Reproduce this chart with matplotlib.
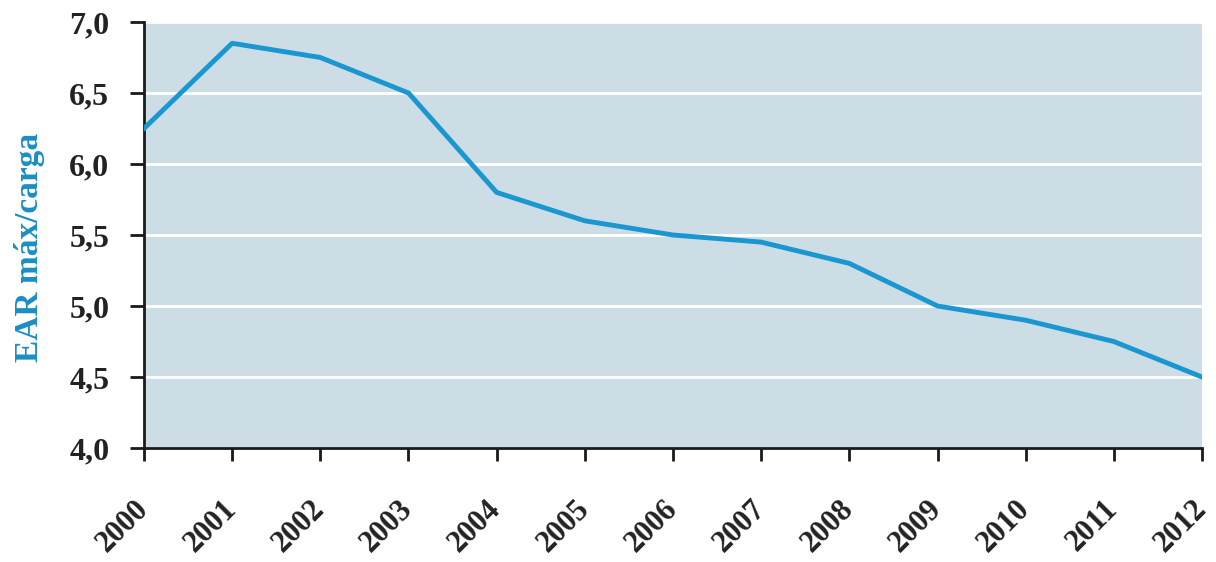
import matplotlib.pyplot as plt

# EAR max per load, yearly values
years = [2000, 2001, 2002, 2003, 2004, 2005, 2006, 2007, 2008, 2009, 2010, 2011, 2012]
ear = [6.25, 6.85, 6.75, 6.50, 5.80, 5.60, 5.50, 5.45, 5.30, 5.00, 4.90, 4.75, 4.50]
y_ticks = [4.0, 4.5, 5.0, 5.5, 6.0, 6.5, 7.0]
y_tick_labels = ['4,0', '4,5', '5,0', '5,5', '6,0', '6,5', '7,0']

plt.rcParams['font.family'] = ['Liberation Serif', 'DejaVu Serif']

fig = plt.figure(figsize=(12.16, 5.62), dpi=100)
ax = fig.add_axes([0.1184, 0.2028, 0.8701, 0.7581])
ax.set_facecolor('#cddde6')

ax.plot(years, ear, color='#1a96d0', linewidth=3.5, solid_joinstyle='round', zorder=3)

ax.set_xlim(2000, 2012)
ax.set_ylim(4.0, 7.0)
ax.set_xticks(years)
ax.set_xticklabels([str(y) for y in years], rotation=45, ha='right', va='center',
                   rotation_mode='anchor', fontsize=22, fontweight='bold', color='#222222')
ax.set_yticks(y_ticks)
ax.set_yticklabels(y_tick_labels, fontsize=23, fontweight='bold', color='#222222')

ax.grid(axis='y', color='white', linewidth=2)
ax.set_axisbelow(True)

for side in ['top', 'right']:
    ax.spines[side].set_visible(False)
for side in ['left', 'bottom']:
    ax.spines[side].set_linewidth(2)
    ax.spines[side].set_color('#1a1a1a')

ax.tick_params(axis='y', length=10, width=2, pad=15, color='#1a1a1a')
ax.tick_params(axis='x', length=9, width=2, pad=32, color='#1a1a1a')

ax.set_ylabel('EAR máx/carga', fontsize=24, fontweight='bold', color='#1a8fc4')
ax.yaxis.set_label_coords(-0.094, 0.47)

fig.savefig('out.png', dpi=100)
